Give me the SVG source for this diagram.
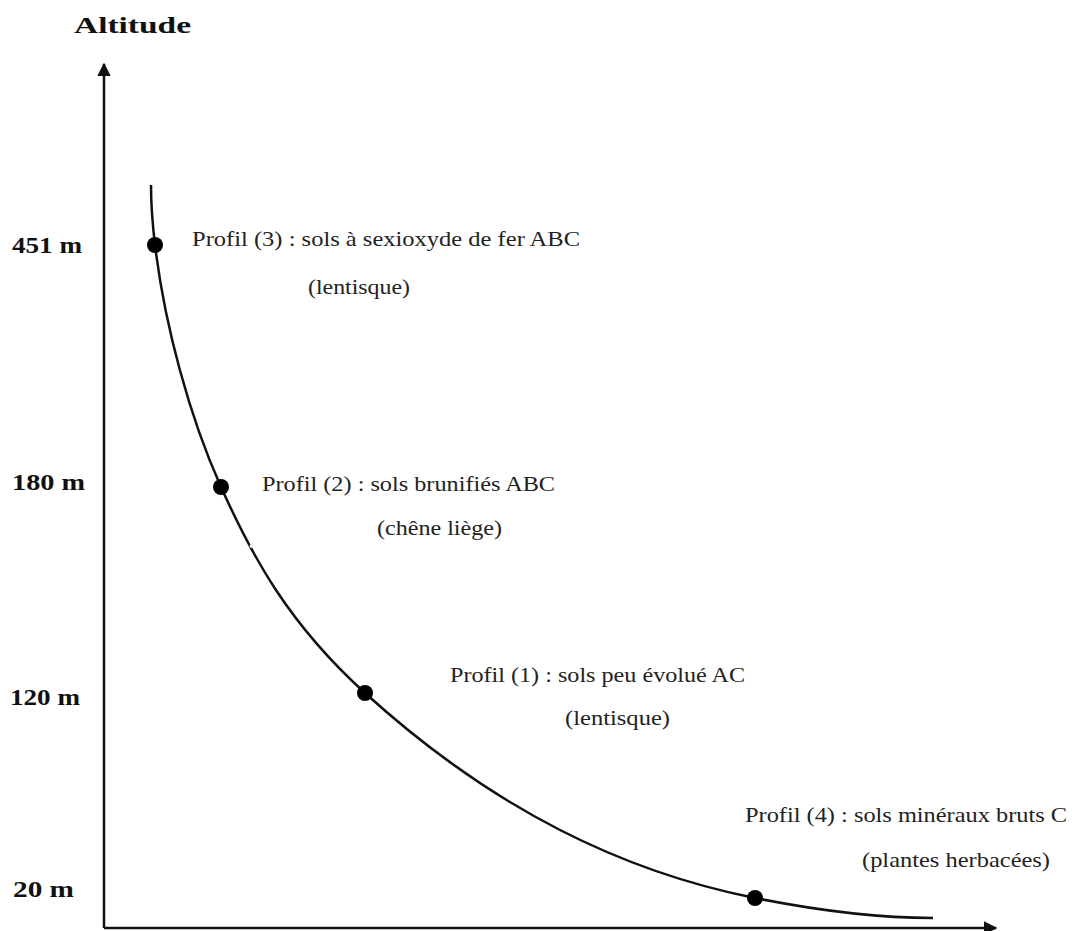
<svg xmlns="http://www.w3.org/2000/svg" width="1072" height="931" viewBox="0 0 1072 931">
<style>
.lbl{font-family:"Liberation Serif","Times New Roman",serif;font-size:22px;fill:#222}
.alt{font-family:"Liberation Serif","Times New Roman",serif;font-size:24px;font-weight:bold;fill:#111}
.ax{stroke:#111;stroke-width:2.5;fill:none}
.dot{fill:#000}
</style>
<defs>
<marker id="ah" viewBox="0 0 10 10" refX="9" refY="5" markerWidth="5.5" markerHeight="5.5" orient="auto" markerUnits="strokeWidth">
<path d="M0,0 L10,5 L0,10 z" fill="#111"/>
</marker>
</defs>
<rect width="1072" height="931" fill="#fff"/>
<g id="axes" class="connectors">
<path class="ax" d="M104,928 L104,64" marker-end="url(#ah)"/>
<path class="ax" d="M104,928 L996,928" marker-end="url(#ah)"/>
</g>
<g id="curve">
<path class="ax" d="M151,185 C151,205 152.6,225 155,245 C164.6,325 189.5,417 221,487 C252.5,557 288,623 365,693 C495,811 625,872 755,898 C815,910 873,918 933,918"/>
<line x1="250" y1="547" x2="258" y2="542" stroke="#fff" stroke-width="3"/>
</g>
<g id="title"><text class="alt" x="74" y="33" textLength="117" lengthAdjust="spacingAndGlyphs">Altitude</text></g>
<g id="ticks">
<text class="alt" x="12" y="253" textLength="70" lengthAdjust="spacingAndGlyphs">451 m</text>
<text class="alt" x="12" y="490" textLength="73" lengthAdjust="spacingAndGlyphs">180 m</text>
<text class="alt" x="10" y="705" textLength="70" lengthAdjust="spacingAndGlyphs">120 m</text>
<text class="alt" x="13" y="897" textLength="61" lengthAdjust="spacingAndGlyphs">20 m</text>
</g>
<g id="p3">
<circle class="dot" cx="155" cy="245" r="8"/>
<text class="lbl" x="192" y="246" textLength="388" lengthAdjust="spacingAndGlyphs">Profil (3) : sols à sexioxyde de fer ABC</text>
<text class="lbl" x="308" y="294" textLength="102" lengthAdjust="spacingAndGlyphs">(lentisque)</text>
</g>
<g id="p2">
<circle class="dot" cx="221" cy="487" r="8"/>
<text class="lbl" x="262" y="491" textLength="293" lengthAdjust="spacingAndGlyphs">Profil (2) : sols brunifiés ABC</text>
<text class="lbl" x="377" y="535" textLength="125" lengthAdjust="spacingAndGlyphs">(chêne liège)</text>
</g>
<g id="p1">
<circle class="dot" cx="365" cy="693" r="8"/>
<text class="lbl" x="450" y="682" textLength="295" lengthAdjust="spacingAndGlyphs">Profil (1) : sols peu évolué AC</text>
<text class="lbl" x="565" y="725" textLength="105" lengthAdjust="spacingAndGlyphs">(lentisque)</text>
</g>
<g id="p4">
<circle class="dot" cx="755" cy="898" r="8"/>
<text class="lbl" x="745" y="822" textLength="322" lengthAdjust="spacingAndGlyphs">Profil (4) : sols minéraux bruts C</text>
<text class="lbl" x="862" y="867" textLength="188" lengthAdjust="spacingAndGlyphs">(plantes herbacées)</text>
</g>
</svg>
